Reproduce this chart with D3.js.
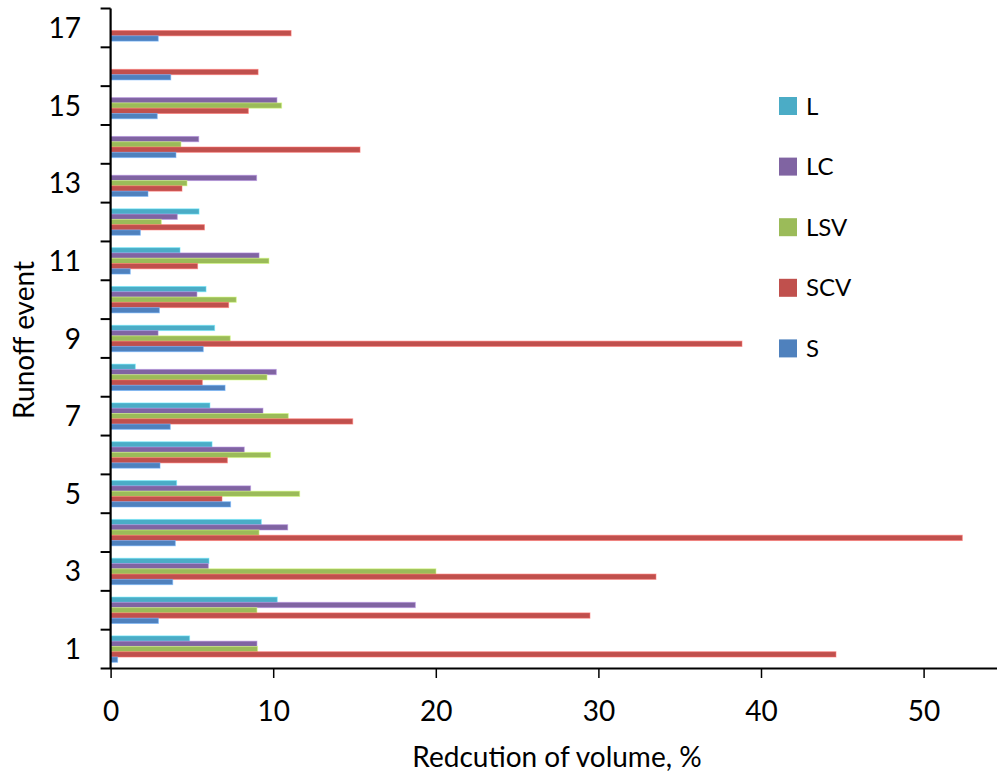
<!DOCTYPE html>
<html>
<head>
<meta charset="utf-8">
<script src="https://cdn.jsdelivr.net/npm/d3@7"></script>
<style>
  html, body { margin: 0; padding: 0; background: #fff; }
  svg { display: block; font-family: Lato, "Open Sans", sans-serif; }
</style>
</head>
<body>
<svg id="chart" width="997" height="774"></svg>
<script>
// Runoff events 1..17 (event 1 at the bottom)
const events = d3.range(1, 18);

// Series names, drawn top to bottom inside each event group
const seriesNames = ["L", "LC", "LSV", "SCV", "S"];
const seriesColors = ["#4BACC6", "#8064A2", "#9BBB59", "#C0504D", "#4F81BD"];

// Reduction of volume (%) per event, index 0 = event 1; null = not measured
const valuesL   = [4.86, 10.25, 6.05, 9.27, 4.06, 6.24, 6.11, 1.52, 6.40, 5.87, 4.27, 5.44, null, null, null, null, null];
const valuesLC  = [9.00, 18.74, 6.01, 10.89, 8.61, 8.22, 9.37, 10.19, 2.92, 5.31, 9.13, 4.10, 8.98, 5.42, 10.23, null, null];
const valuesLSV = [9.04, 9.00, 20.01, 9.13, 11.63, 9.84, 10.93, 9.62, 7.36, 7.73, 9.74, 3.12, 4.70, 4.33, 10.52, null, null];
const valuesSCV = [44.61, 29.48, 33.54, 52.38, 6.85, 7.18, 14.89, 5.64, 38.83, 7.26, 5.35, 5.77, 4.39, 15.34, 8.47, 9.07, 11.10];
const valuesS   = [0.43, 2.94, 3.82, 3.98, 7.38, 3.04, 3.67, 7.04, 5.70, 3.00, 1.21, 1.83, 2.30, 4.02, 2.87, 3.70, 2.93];

const seriesValues = [valuesL, valuesLC, valuesLSV, valuesSCV, valuesS];

// Axis tick values
const xTicks = [0, 10, 20, 30, 40, 50];
const yLabelEvents = [1, 3, 5, 7, 9, 11, 13, 15, 17];

const svg = d3.select("#chart");

const plot = { left: 110.6, top: 8.5, bottom: 668.5 };
const axisFont = 28;

const x = d3.scaleLinear().domain([0, 55]).range([plot.left, plot.left + 55 * 16.26]);

const y = d3.scaleBand()
  .domain(events.slice().reverse())
  .range([plot.top, plot.bottom])
  .paddingInner(0.32)
  .paddingOuter(0.16);

const ySub = d3.scaleBand()
  .domain(seriesNames)
  .range([0, y.bandwidth()]);

// Bars
const rows = [];
seriesNames.forEach((name, si) => {
  events.forEach((ev, ei) => {
    const v = seriesValues[si][ei];
    if (v != null) rows.push({ name, ev, v, color: seriesColors[si] });
  });
});

svg.append("g")
  .selectAll("rect")
  .data(rows)
  .join("rect")
  .attr("x", x(0))
  .attr("y", d => y(d.ev) + ySub(d.name))
  .attr("width", d => x(d.v) - x(0))
  .attr("height", ySub.bandwidth())
  .attr("fill", d => d.color)
  .attr("stroke", d => d3.color(d.color).brighter(0.9))
  .attr("stroke-opacity", 0.55)
  .attr("stroke-width", 1);

// Y axis line and category boundary ticks
const step = y.step();
const yBoundaries = d3.range(0, 17).map(i => plot.top + i * step);
const axisG = svg.append("g").attr("stroke", "#000");

axisG.selectAll("line.ytick")
  .data(yBoundaries)
  .join("line")
  .attr("class", "ytick")
  .attr("x1", plot.left - 10)
  .attr("x2", plot.left)
  .attr("y1", d => d)
  .attr("y2", d => d)
  .attr("stroke-width", 2);

axisG.append("line")
  .attr("x1", plot.left).attr("x2", plot.left)
  .attr("y1", plot.top).attr("y2", plot.bottom)
  .attr("stroke-width", 2.2);

// X axis
const xAxis = d3.axisBottom(x).tickValues(xTicks).tickSize(9.5).tickFormat(d3.format("d"));
const xg = svg.append("g")
  .attr("transform", `translate(0,${plot.bottom})`)
  .call(xAxis);
xg.select(".domain").remove();
xg.selectAll(".tick line").attr("stroke", "#000").attr("stroke-width", 1.5);
xg.selectAll(".tick text")
  .attr("font-size", axisFont)
  .attr("font-family", "Lato, 'Open Sans', sans-serif")
  .attr("fill", "#000")
  .attr("dy", null)
  .attr("y", 52.5);

axisG.append("line")
  .attr("x1", plot.left - 10).attr("x2", 997)
  .attr("y1", plot.bottom).attr("y2", plot.bottom)
  .attr("stroke-width", 2.2);

// Y category labels (odd events)
svg.append("g")
  .selectAll("text")
  .data(yLabelEvents)
  .join("text")
  .attr("x", 81)
  .attr("y", d => y(d) + y.bandwidth() / 2 + 10)
  .attr("text-anchor", "end")
  .attr("font-size", axisFont)
  .attr("fill", "#000")
  .text(d => d);

// Axis titles
svg.append("text")
  .attr("x", 557)
  .attr("y", 767)
  .attr("text-anchor", "middle")
  .attr("font-size", axisFont)
  .text("Redcution of volume, %");

svg.append("text")
  .attr("transform", "translate(34,340) rotate(-90)")
  .attr("text-anchor", "middle")
  .attr("font-size", axisFont)
  .text("Runoff event");

// Legend
const legend = svg.append("g")
  .selectAll("g")
  .data(seriesNames)
  .join("g")
  .attr("transform", (d, i) => `translate(779,${106 + i * 60.6})`);

legend.append("rect")
  .attr("x", 0).attr("y", -9)
  .attr("width", 18).attr("height", 18)
  .attr("fill", (d, i) => seriesColors[i]);

legend.append("text")
  .attr("x", 27)
  .attr("y", 8.5)
  .attr("font-size", 24)
  .text(d => d);
</script>
</body>
</html>
